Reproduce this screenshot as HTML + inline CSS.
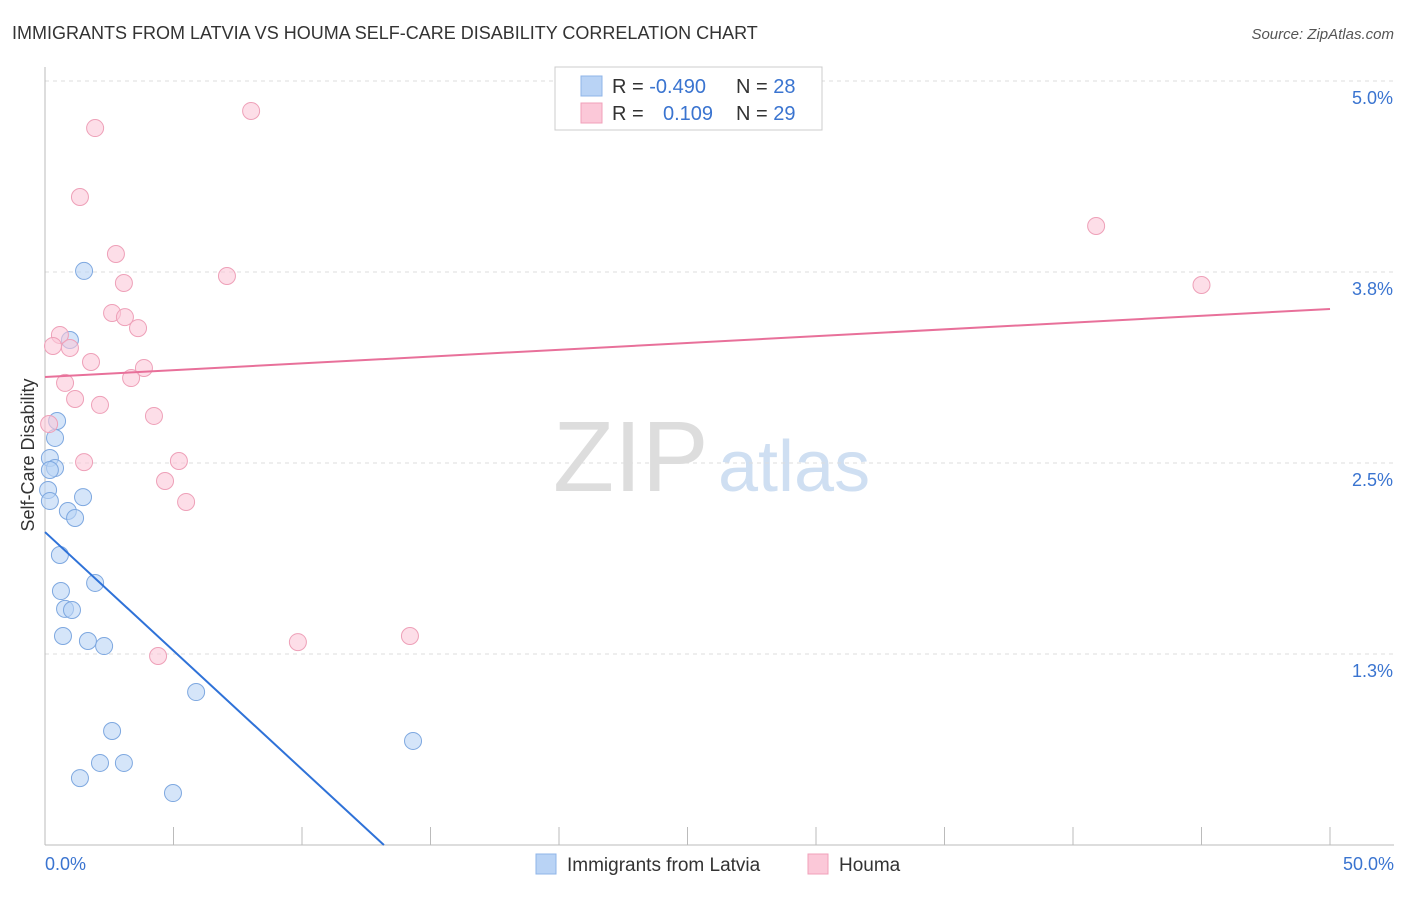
<!DOCTYPE html>
<html><head><meta charset="utf-8"><style>
body{margin:0;background:#fff;font-family:"Liberation Sans",sans-serif;}
svg text{font-family:"Liberation Sans",sans-serif;}
</style></head><body>
<svg id="c" width="1406" height="892">
<text x="12" y="39" font-size="18" fill="#333">IMMIGRANTS FROM LATVIA VS HOUMA SELF-CARE DISABILITY CORRELATION CHART</text>
<text x="1394" y="39" font-size="15" fill="#555" text-anchor="end" font-style="italic">Source: ZipAtlas.com</text>
<text x="553" y="491" font-size="100" fill="#ddd" font-family="Liberation Serif">ZIP</text>
<text x="718" y="491" font-size="72" fill="#cfdff2">atlas</text>
<text x="34" y="455" font-size="18" fill="#333" text-anchor="middle" transform="rotate(-90 34 455)">Self-Care Disability</text>
<g id="grid"></g><g id="marks"></g>
<g>
<rect x="555" y="67" width="267" height="63" fill="#fff" stroke="#ccc"/>
<rect x="581" y="76" width="21" height="20" fill="#b9d3f5" stroke="#8fb4e8"/>
<rect x="581" y="103" width="21" height="20" fill="#fbc8d8" stroke="#f0a0ba"/>
<text x="612" y="93" font-size="20" fill="#333">R = <tspan fill="#3a74d0">-0.490</tspan></text>
<text x="736" y="93" font-size="20" fill="#333">N = <tspan fill="#3a74d0">28</tspan></text>
<text x="612" y="120" font-size="20" fill="#333">R = </text>
<text x="663" y="120" font-size="20" fill="#3a74d0">0.109</text>
<text x="736" y="120" font-size="20" fill="#333">N = <tspan fill="#3a74d0">29</tspan></text>
</g>
<g>
<rect x="536" y="854" width="20" height="20" fill="#b9d3f5" stroke="#8fb4e8"/>
<text x="567" y="871" font-size="19" fill="#333">Immigrants from Latvia</text>
<rect x="808" y="854" width="20" height="20" fill="#fbc8d8" stroke="#f0a0ba"/>
<text x="839" y="871" font-size="19" fill="#333">Houma</text>
</g>
</svg>
<script>
const yTicks=[5.0,3.75,2.5,1.25];
const yTickLabels=["5.0%","3.8%","2.5%","1.3%"];
const xTicks=[0,5,10,15,20,25,30,35,40,45,50];
const blueX=[1.52,0.97,0.47,0.39,0.19,0.39,0.19,0.12,0.19,1.48,0.89,1.17,0.58,0.62,1.95,0.78,1.05,0.70,1.67,2.30,5.88,2.61,14.32,2.14,3.07,1.36,4.98];
const blueY=[3.757,3.305,2.775,2.664,2.533,2.467,2.454,2.323,2.251,2.277,2.186,2.140,1.898,1.662,1.715,1.545,1.538,1.368,1.335,1.302,1.001,0.746,0.681,0.537,0.537,0.438,0.340];
const pinkX=[1.95,8.02,1.36,2.76,7.08,3.07,2.61,3.11,3.62,0.58,0.31,0.97,1.79,3.85,0.78,3.35,1.17,2.14,4.24,0.16,1.52,5.21,4.67,5.49,9.84,14.2,4.40,40.9,45.0];
const pinkY=[4.692,4.804,4.241,3.868,3.724,3.678,3.482,3.455,3.383,3.338,3.266,3.253,3.161,3.122,3.024,3.056,2.919,2.880,2.808,2.755,2.506,2.513,2.382,2.245,1.328,1.368,1.237,4.051,3.665];
const blueLine=[2.048,-0.1553];
const pinkLine=[3.063,0.0089];
const NS="http://www.w3.org/2000/svg";
const sx=v=>45+v/50*1285, sy=v=>845-v/1.25*191;
function mk(p,t,a){const e=document.createElementNS(NS,t);for(const k in a)e.setAttribute(k,a[k]);p.appendChild(e);return e;}
const g=document.getElementById('grid'),m=document.getElementById('marks');
yTicks.forEach((t,i)=>{
 const l=mk(g,'line',{x1:45,x2:1394,y1:sy(t),y2:sy(t),stroke:'#ddd','stroke-dasharray':'4,4'});
 
 
 const tx=mk(g,'text',{x:1393,y:sy(t)+23,'font-size':18,fill:'#3a74d0','text-anchor':'end'});
 tx.textContent=yTickLabels[i];
 
 
});
const ax=mk(g,'line',{x1:45,x2:1394,y1:845,y2:845,stroke:'#bbb'});


const ay=mk(g,'line',{x1:45,x2:45,y1:67,y2:845,stroke:'#bbb'});


xTicks.forEach(t=>{
 const l=mk(g,'line',{x1:sx(t),x2:sx(t),y1:827,y2:845,stroke:'#bbb'});
 
 
});
[[0,"0.0%","start",45],[50,"50.0%","end",1394]].forEach(d=>{
 const tx=mk(g,'text',{x:d[3],y:870,'font-size':18,fill:'#3a74d0','text-anchor':d[2]});
 tx.textContent=d[1];
 
 
});
function pts(X,Y,fill,stroke,name){X.forEach((x,i)=>{
 const c=mk(m,'circle',{cx:sx(x),cy:sy(Y[i]),r:8.5,fill:fill,stroke:stroke,'stroke-width':1,'fill-opacity':0.6});
 
 
});}
pts(blueX,blueY,'#b9d3f5','#7ea8e0','latvia-point');
pts(pinkX,pinkY,'#fbc8d8','#eea0b8','houma-point');
const bx2=-blueLine[0]/blueLine[1];
const bl=mk(m,'line',{x1:sx(0),y1:sy(blueLine[0]),x2:sx(bx2),y2:sy(0),stroke:'#2f72d8','stroke-width':2});


const pl=mk(m,'line',{x1:sx(0),y1:sy(pinkLine[0]),x2:sx(50),y2:sy(pinkLine[0]+50*pinkLine[1]),stroke:'#e8709a','stroke-width':2});


</script>
</body></html>
